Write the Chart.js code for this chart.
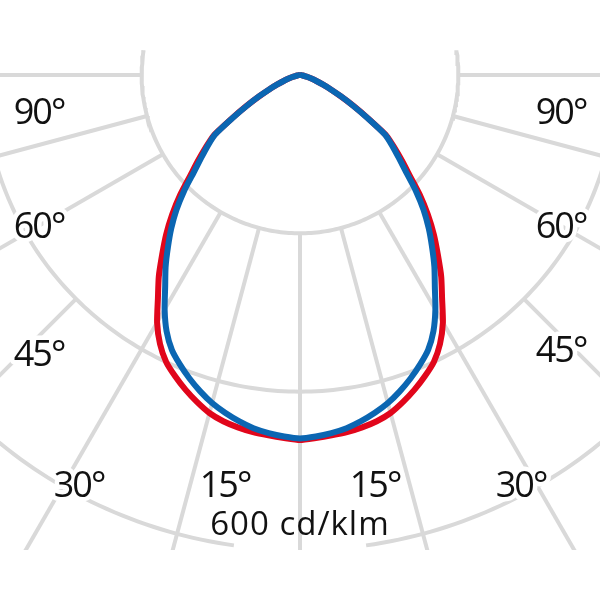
<!DOCTYPE html>
<html>
<head>
<meta charset="utf-8">
<script src="https://cdn.jsdelivr.net/npm/chart.js@4.4.1/dist/chart.umd.min.js"></script>
<style>
html, body { margin: 0; padding: 0; background: #fff; }
#wrap { width: 600px; height: 600px; }
</style>
</head>
<body>
<div id="wrap"><canvas id="ldc"></canvas></div>
<script>
// gamma angle from nadir (deg) and intensity (cd/klm), mirrored left/right
const gamma = [0, 2.5, 5, 7.5, 10, 12.5, 15, 17.5, 20, 22.5, 25, 27.5, 30, 32.5, 35, 37.5, 40, 42.5,
  45, 47.5, 50, 52.5, 55, 57.5, 60, 62.5, 65, 67.5, 70, 72.5, 75, 77.5, 80, 82.5, 85, 87.5, 90];
const planeRed  = [461, 459, 457, 455, 452, 448, 442, 433, 423, 412, 400, 383, 361, 334, 311, 286, 263, 239,
  214, 188, 168, 150, 133, 102, 78, 58, 43, 31, 22, 15, 10, 6, 3.5, 1.6, 0.5, 0, 0];
const planeBlue = [459, 457, 454, 450, 444, 437, 429, 419, 408, 396, 383, 365, 342, 317, 296, 274, 253, 231,
  207, 182, 163, 147, 131, 101, 77, 58, 43, 31, 22, 15, 10, 6, 3.5, 1.6, 0.5, 0, 0];

// grid
const rings = [200, 400, 600];
const rayAngles = [0, 15, 30, 45, 60, 75, 90];
const rayFrom   = [200, 200, 200, 400, 200, 200, 200];
const angleLabels = ["90°", "60°", "45°", "30°", "15°"];
const unitLabel = "600 cd/klm";

const GRID = "#d9d9d9";

function toXY(deg, r) {
  const a = deg * Math.PI / 180;
  return { x: r * Math.sin(a), y: -r * Math.cos(a) };
}

function curvePoints(vals) {
  const pts = [];
  for (let i = gamma.length - 1; i >= 0; i--) pts.push(toXY(-gamma[i], vals[i]));
  for (let i = 1; i < gamma.length; i++) pts.push(toXY(gamma[i], vals[i]));
  return pts;
}

function arcPoints(r, from, to) {
  const pts = [];
  for (let a = from; a <= to; a += 1) pts.push(toXY(a, r));
  return pts;
}

function gridSet(pts) {
  return { data: pts, showLine: true, borderColor: GRID, borderWidth: 4, pointRadius: 0, tension: 0, order: 5, clip: 0 };
}

const datasets = [];
datasets.push({ label: "C90", data: curvePoints(planeBlue), showLine: true, borderColor: "#0b66b2",
  borderWidth: 6, pointRadius: 0, tension: 0.2, order: 0, clip: 0 });
datasets.push({ label: "C0", data: curvePoints(planeRed), showLine: true, borderColor: "#e1061b",
  borderWidth: 6, pointRadius: 0, tension: 0.2, order: 1, clip: 0 });

// rings: inner closes over top, middle full, outer with gap for the unit label
datasets.push(gridSet(arcPoints(rings[0], -99, 99)));
datasets.push(gridSet(arcPoints(rings[1], -100, 100)));
datasets.push(gridSet(arcPoints(rings[2], -100, -8)));
datasets.push(gridSet(arcPoints(rings[2], 8, 100)));
rayAngles.forEach((a, i) => {
  [-1, 1].forEach(s => {
    if (a === 0 && s < 0) return;
    datasets.push(gridSet([toXY(s * a, rayFrom[i]), toXY(s * a, 1200)]));
  });
});

const labelPlugin = {
  id: "labels",
  afterDatasetsDraw(chart) {
    const ctx = chart.ctx;
    ctx.save();
    ctx.textAlign = "center";
    ctx.textBaseline = "alphabetic";
    ctx.lineJoin = "round";
    const cx = [39, 39, 39, 79, 225];
    const byLeft = [124, 238, 366, 497, 497];
    const byRight = [124, 238, 362, 497, 497];
    ctx.font = "500 36px 'Open Sans'";
    ctx.letterSpacing = "-2px";
    angleLabels.forEach((t, i) => {
      [[cx[i], byLeft[i]], [600 - cx[i], byRight[i]]].forEach(([x, y]) => {
        ctx.strokeStyle = "#fff";
        ctx.lineWidth = 9;
        ctx.strokeText(t, x, y);
        ctx.fillStyle = "#111";
        ctx.fillText(t, x, y);
      });
    });
    ctx.font = "500 33px 'Open Sans'";
    ctx.letterSpacing = "1px";
    ctx.fillStyle = "#111";
    ctx.fillText(unitLabel, 300, 535);
    ctx.restore();
  }
};

new Chart(document.getElementById("ldc").getContext("2d"), {
  type: "scatter",
  data: { datasets: datasets },
  options: {
    responsive: true,
    maintainAspectRatio: false,
    animation: false,
    events: [],
    layout: { padding: { left: 0, right: 0, top: 0, bottom: 50 } },
    scales: {
      x: { type: "linear", display: false, min: -378.95, max: 378.95 },
      y: { type: "linear", display: false, min: -600, max: 94.74 }
    },
    plugins: { legend: { display: false }, tooltip: { enabled: false } }
  },
  plugins: [labelPlugin]
});
</script>
</body>
</html>
